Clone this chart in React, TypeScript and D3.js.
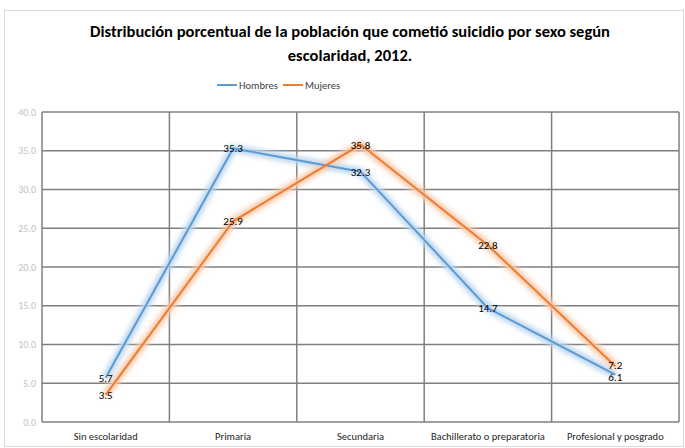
import React from "react";
import * as d3 from "d3";

const categories = ["Sin escolaridad", "Primaria", "Secundaria", "Bachillerato o preparatoria", "Profesional y posgrado"];
const hombres = [5.7, 35.3, 32.3, 14.7, 6.1];
const mujeres = [3.5, 25.9, 35.8, 22.8, 7.2];
const yTicks = [0, 5, 10, 15, 20, 25, 30, 35, 40];
const seriesNames = ["Hombres", "Mujeres"];
const colors = ["#5B9BD5", "#ED7D31"];
const glowColors = ["#BDD7EE", "#F8CBAD"];

const W = 685, H = 448;
const left = 42, right = 679, top = 112, bottom = 422;
const font = "Carlito, 'Liberation Sans Narrow', 'Open Sans', sans-serif";

export default function App() {
  const x = d3.scaleBand<string>().domain(categories).range([left, right]);
  const y = d3.scaleLinear().domain([0, 40]).range([bottom, top]);
  const line = d3.line<number>()
    .x((_, i) => (x(categories[i]) as number) + x.bandwidth() / 2)
    .y((d) => y(d));
  const series = [hombres, mujeres];
  const bounds = [...categories.map((c) => x(c) as number), right];

  return (
    <div style={{ position: "absolute", left: 0, top: 0 }}>
      <svg width={W} height={H} style={{ display: "block", background: "#fff" }}>
        <defs>
          <filter id="glow" x="-20%" y="-20%" width="140%" height="140%">
            <feGaussianBlur stdDeviation="2.5" />
          </filter>
        </defs>
        <rect x={4.5} y={10.5} width={679} height={436} fill="#fff" stroke="#D9D9D9" />
        <text x={350} y={37} textAnchor="middle" fontFamily={font} fontWeight="bold" fontSize={16.5} fill="#000">
          Distribución porcentual de la población que cometió suicidio por sexo según
        </text>
        <text x={350} y={61} textAnchor="middle" fontFamily={font} fontWeight="bold" fontSize={16.5} fill="#000">
          escolaridad, 2012.
        </text>
        {seriesNames.map((n, i) => {
          const lx = i === 0 ? 217 : 283;
          return (
            <g key={n}>
              <line x1={lx} x2={lx + 20} y1={85} y2={85} stroke={colors[i]} strokeWidth={2} />
              <text x={lx + 22} y={88.5} fontFamily={font} fontSize={10.5} fill="#404040">{n}</text>
            </g>
          );
        })}
        {yTicks.map((t) => (
          <g key={t}>
            <line x1={left} x2={right} y1={y(t)} y2={y(t)} stroke="#7F7F7F" strokeWidth={1.5} />
            <text x={36} y={y(t) + 3.5} textAnchor="end" fontFamily={font} fontSize={10} fill="#BFBFBF">
              {t.toFixed(1)}
            </text>
          </g>
        ))}
        {bounds.map((b, i) => (
          <line key={i} x1={b} x2={b} y1={top} y2={bottom} stroke="#7F7F7F" strokeWidth={1.5} />
        ))}
        {series.map((s, i) => (
          <path key={"g" + i} d={line(s) as string} fill="none" stroke={glowColors[i]} strokeWidth={8} filter="url(#glow)" />
        ))}
        {series.map((s, i) => (
          <path key={"l" + i} d={line(s) as string} fill="none" stroke={colors[i]} strokeWidth={2} />
        ))}
        {series.map((s, i) =>
          s.map((v, j) => (
            <text key={i + "-" + j} x={(x(categories[j]) as number) + x.bandwidth() / 2}
              y={y(v) + 4 + (i === 0 && j === 4 ? 2 : 0) - (i === 1 && j === 4 ? 1.5 : 0)}
              textAnchor="middle" fontFamily={font} fontSize={11} fill="#000">
              {v.toFixed(1)}
            </text>
          ))
        )}
        {categories.map((c) => (
          <text key={c} x={(x(c) as number) + x.bandwidth() / 2} y={440} textAnchor="middle"
            fontFamily={font} fontSize={10.5} fill="#262626">
            {c}
          </text>
        ))}
      </svg>
    </div>
  );
}
